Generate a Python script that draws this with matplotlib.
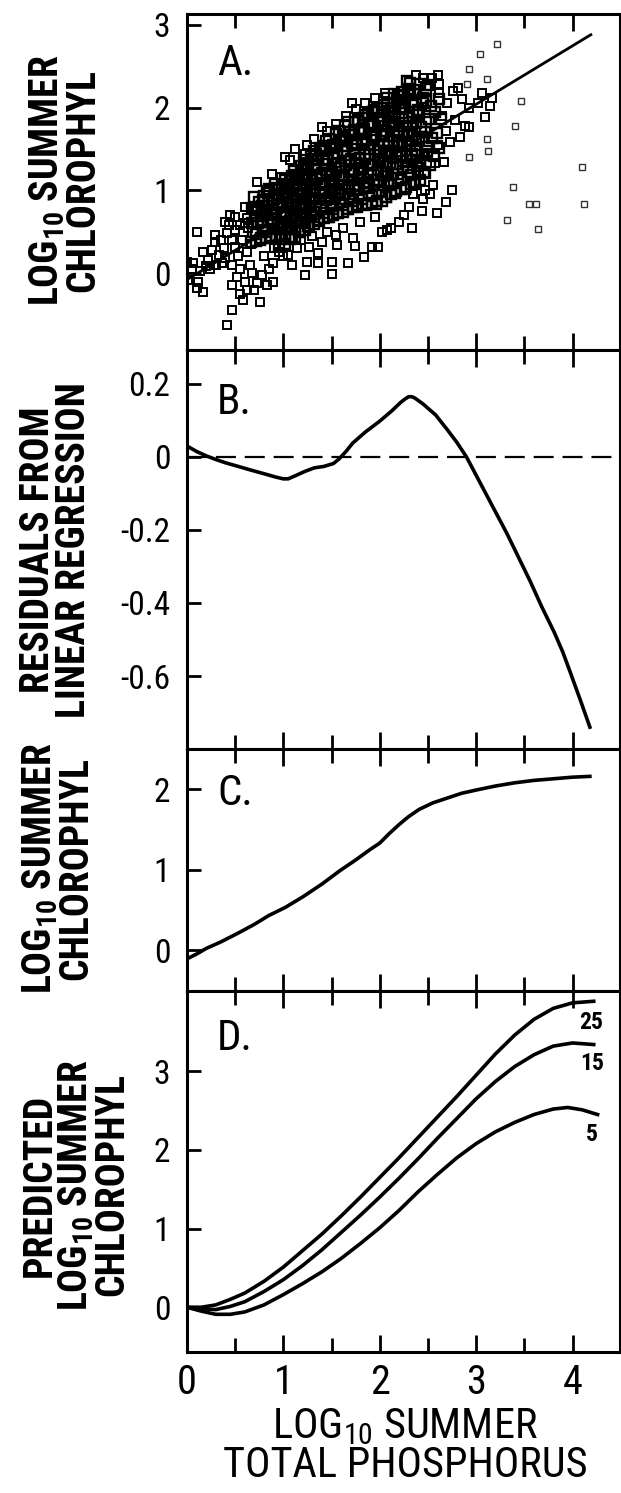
import matplotlib
matplotlib.use("Agg")
import matplotlib.pyplot as plt
from matplotlib import font_manager

# ---- data ----
# panel A: dense core of lakes (log TP, log chl)
core_tp = [0.66, 0.72, 0.69, 0.74, 0.67, 0.71, 0.73, 0.68, 0.70,
           0.76, 0.82, 0.79, 0.84, 0.77, 0.81, 0.83, 0.78, 0.80, 0.845,
           0.86, 0.92, 0.89, 0.94, 0.87, 0.91, 0.93, 0.88, 0.90, 0.945, 0.855, 0.915,
           0.96, 1.02, 0.99, 1.04, 0.97, 1.01, 1.03, 0.98, 1.00, 1.045, 0.955, 1.015, 0.985, 1.035,
           1.06, 1.12, 1.09, 1.14, 1.07, 1.11, 1.13, 1.08, 1.10, 1.145, 1.055, 1.115, 1.085, 1.135,
           1.16, 1.22, 1.19, 1.24, 1.17, 1.21, 1.23, 1.18, 1.20, 1.245, 1.155, 1.215, 1.185, 1.235,
           1.26, 1.32, 1.29, 1.34, 1.27, 1.31, 1.33, 1.28, 1.30, 1.345, 1.255, 1.315, 1.285, 1.335,
           1.36, 1.42, 1.39, 1.44, 1.37, 1.41, 1.43, 1.38, 1.40, 1.445, 1.355, 1.415, 1.385, 1.435,
           1.46, 1.52, 1.49, 1.54, 1.47, 1.51, 1.53, 1.48, 1.50, 1.545, 1.455, 1.515, 1.485, 1.535, 1.475,
           1.56, 1.62, 1.59, 1.64, 1.57, 1.61, 1.63, 1.58, 1.60, 1.645, 1.555, 1.615, 1.585, 1.635, 1.575,
           1.66, 1.72, 1.69, 1.74, 1.67, 1.71, 1.73, 1.68, 1.70, 1.745, 1.655, 1.715, 1.685, 1.735, 1.675,
           1.76, 1.82, 1.79, 1.84, 1.77, 1.81, 1.83, 1.78, 1.80, 1.845, 1.755, 1.815, 1.785, 1.835, 1.775, 1.825,
           1.86, 1.92, 1.89, 1.94, 1.87, 1.91, 1.93, 1.88, 1.90, 1.945, 1.855, 1.915, 1.885, 1.935, 1.875, 1.925,
           1.96, 2.02, 1.99, 2.04, 1.97, 2.01, 2.03, 1.98, 2.00, 2.045, 1.955, 2.015, 1.985, 2.035, 1.975, 2.025,
           2.06, 2.12, 2.09, 2.14, 2.07, 2.11, 2.13, 2.08, 2.10, 2.145, 2.055, 2.115, 2.085, 2.135, 2.075,
           2.16, 2.22, 2.19, 2.24, 2.17, 2.21, 2.23, 2.18, 2.20, 2.245, 2.155, 2.215, 2.185, 2.235,
           2.26, 2.32, 2.29, 2.34, 2.27, 2.31, 2.33, 2.28, 2.30, 2.345, 2.255, 2.315, 2.285,
           2.36, 2.42, 2.39, 2.44, 2.37, 2.41, 2.43, 2.38, 2.40, 2.445, 2.355, 2.415,
           2.46, 2.52, 2.49, 2.54, 2.47, 2.51, 2.53, 2.48, 2.50,
           2.56, 2.62, 2.59, 2.64, 2.57, 2.61]
core_chl = [0.37, 0.39, 0.50, 0.60, 0.61, 0.69, 0.79, 0.79, 0.92,
            0.40, 0.42, 0.52, 0.62, 0.63, 0.71, 0.81, 0.81, 0.93, 0.97,
            0.42, 0.43, 0.53, 0.62, 0.62, 0.70, 0.78, 0.77, 0.89, 0.92, 1.02, 1.03,
            0.34, 0.35, 0.45, 0.54, 0.53, 0.61, 0.70, 0.69, 0.80, 0.84, 0.93, 0.94, 1.06, 1.07,
            0.42, 0.43, 0.53, 0.63, 0.63, 0.71, 0.80, 0.79, 0.91, 0.94, 1.04, 1.05, 1.17, 1.19,
            0.50, 0.52, 0.62, 0.71, 0.72, 0.80, 0.90, 0.89, 1.01, 1.05, 1.15, 1.17, 1.29, 1.31,
            0.57, 0.59, 0.70, 0.80, 0.81, 0.90, 1.00, 0.99, 1.12, 1.16, 1.27, 1.29, 1.42, 1.44,
            0.64, 0.66, 0.77, 0.88, 0.89, 0.98, 1.08, 1.08, 1.21, 1.25, 1.36, 1.38, 1.51, 1.54,
            0.68, 0.70, 0.81, 0.91, 0.91, 1.00, 1.10, 1.10, 1.22, 1.27, 1.37, 1.39, 1.52, 1.54, 1.62,
            0.72, 0.74, 0.86, 0.96, 0.97, 1.06, 1.17, 1.17, 1.30, 1.35, 1.45, 1.48, 1.61, 1.63, 1.72,
            0.77, 0.80, 0.91, 1.02, 1.04, 1.13, 1.24, 1.25, 1.38, 1.43, 1.54, 1.57, 1.70, 1.73, 1.82,
            0.80, 0.83, 0.94, 1.04, 1.06, 1.15, 1.26, 1.26, 1.39, 1.44, 1.55, 1.58, 1.71, 1.74, 1.83, 1.87,
            0.82, 0.85, 0.97, 1.08, 1.10, 1.19, 1.30, 1.31, 1.44, 1.50, 1.61, 1.64, 1.78, 1.81, 1.91, 1.95,
            0.84, 0.87, 0.99, 1.10, 1.12, 1.22, 1.33, 1.34, 1.48, 1.53, 1.65, 1.68, 1.82, 1.85, 1.95, 1.99,
            0.92, 0.96, 1.08, 1.20, 1.22, 1.33, 1.44, 1.46, 1.60, 1.66, 1.78, 1.82, 1.96, 2.00, 2.11,
            0.97, 1.02, 1.15, 1.28, 1.32, 1.43, 1.56, 1.58, 1.73, 1.81, 1.94, 1.98, 2.14, 2.19,
            1.02, 1.08, 1.22, 1.36, 1.41, 1.53, 1.67, 1.71, 1.87, 1.95, 2.09, 2.15, 2.32,
            1.07, 1.13, 1.29, 1.43, 1.49, 1.62, 1.76, 1.81, 1.97, 2.06, 2.21, 2.28,
            1.22, 1.30, 1.47, 1.63, 1.71, 1.86, 2.02, 2.08, 2.27,
            1.42, 1.51, 1.69, 1.86, 1.94, 2.10]

# panel A: more lakes filling the core between the ones above
core2_tp = [0.77, 0.72, 0.79, 0.74, 0.78, 0.705, 0.75, 0.785,
            0.87, 0.82, 0.89, 0.84, 0.88, 0.805, 0.85, 0.885, 0.83,
            0.97, 0.92, 0.99, 0.94, 0.98, 0.905, 0.95, 0.985, 0.93, 0.96, 0.915,
            1.07, 1.02, 1.09, 1.04, 1.08, 1.005, 1.05, 1.085, 1.03, 1.06, 1.015, 1.095,
            1.17, 1.12, 1.19, 1.14, 1.18, 1.105, 1.15, 1.185, 1.13, 1.16, 1.115, 1.195,
            1.27, 1.22, 1.29, 1.24, 1.28, 1.205, 1.25, 1.285, 1.23, 1.26, 1.215, 1.295,
            1.37, 1.32, 1.39, 1.34, 1.38, 1.305, 1.35, 1.385, 1.33, 1.36, 1.315, 1.395,
            1.47, 1.42, 1.49, 1.44, 1.48, 1.405, 1.45, 1.485, 1.43, 1.46, 1.415, 1.495, 1.445,
            1.57, 1.52, 1.59, 1.54, 1.58, 1.505, 1.55, 1.585, 1.53, 1.56, 1.515, 1.595, 1.545,
            1.67, 1.62, 1.69, 1.64, 1.68, 1.605, 1.65, 1.685, 1.63, 1.66, 1.615, 1.695, 1.645,
            1.77, 1.72, 1.79, 1.74, 1.78, 1.705, 1.75, 1.785, 1.73, 1.76, 1.715, 1.795, 1.745, 1.775,
            1.87, 1.82, 1.89, 1.84, 1.88, 1.805, 1.85, 1.885, 1.83, 1.86, 1.815, 1.895, 1.845, 1.875,
            1.97, 1.92, 1.99, 1.94, 1.98, 1.905, 1.95, 1.985, 1.93, 1.96, 1.915, 1.995, 1.945, 1.975,
            2.07, 2.02, 2.09, 2.04, 2.08, 2.005, 2.05, 2.085, 2.03, 2.06, 2.015, 2.095, 2.045, 2.075,
            2.17, 2.12, 2.19, 2.14, 2.18, 2.105, 2.15, 2.185, 2.13, 2.16, 2.115, 2.195, 2.145,
            2.27, 2.22, 2.29, 2.24, 2.28, 2.205, 2.25, 2.285, 2.23, 2.26, 2.215, 2.295,
            2.37, 2.32, 2.39, 2.34, 2.38, 2.305, 2.35, 2.385, 2.33, 2.36, 2.315,
            2.47, 2.42, 2.49, 2.44, 2.48, 2.405, 2.45, 2.485]
core2_chl = [0.42, 0.47, 0.57, 0.61, 0.72, 0.76, 0.86, 0.88,
             0.45, 0.50, 0.59, 0.63, 0.72, 0.76, 0.86, 0.88, 0.99,
             0.41, 0.45, 0.55, 0.59, 0.69, 0.73, 0.83, 0.85, 0.96, 1.00, 1.07,
             0.41, 0.45, 0.56, 0.60, 0.70, 0.74, 0.84, 0.87, 0.98, 1.02, 1.12, 1.13,
             0.49, 0.53, 0.65, 0.69, 0.79, 0.84, 0.94, 0.97, 1.09, 1.13, 1.23, 1.25,
             0.56, 0.61, 0.73, 0.78, 0.89, 0.94, 1.05, 1.08, 1.20, 1.25, 1.36, 1.38,
             0.63, 0.68, 0.81, 0.86, 0.97, 1.03, 1.14, 1.18, 1.31, 1.36, 1.47, 1.49,
             0.68, 0.73, 0.85, 0.90, 1.01, 1.06, 1.17, 1.20, 1.32, 1.37, 1.48, 1.52, 1.60,
             0.72, 0.77, 0.89, 0.95, 1.06, 1.11, 1.22, 1.27, 1.39, 1.44, 1.55, 1.60, 1.68,
             0.77, 0.82, 0.95, 1.01, 1.13, 1.18, 1.30, 1.35, 1.48, 1.53, 1.65, 1.70, 1.78,
             0.82, 0.87, 1.00, 1.05, 1.16, 1.22, 1.33, 1.38, 1.50, 1.55, 1.67, 1.71, 1.83, 1.85,
             0.84, 0.90, 1.03, 1.09, 1.21, 1.26, 1.38, 1.43, 1.56, 1.62, 1.74, 1.79, 1.91, 1.93,
             0.87, 0.93, 1.06, 1.12, 1.24, 1.30, 1.43, 1.48, 1.61, 1.67, 1.79, 1.84, 1.97, 1.99,
             0.92, 0.98, 1.11, 1.17, 1.29, 1.36, 1.48, 1.53, 1.66, 1.72, 1.85, 1.90, 2.03, 2.05,
             0.99, 1.06, 1.20, 1.27, 1.40, 1.47, 1.60, 1.66, 1.80, 1.87, 2.00, 2.06, 2.16,
             1.04, 1.12, 1.27, 1.35, 1.49, 1.57, 1.71, 1.78, 1.93, 2.01, 2.15, 2.22,
             1.10, 1.19, 1.35, 1.44, 1.59, 1.68, 1.83, 1.91, 2.07, 2.16, 2.30,
             1.21, 1.33, 1.52, 1.64, 1.82, 1.94, 2.12, 2.23]

# panel A: scattered lakes away from the core
scatter_pts = [
    (0.00, 0.13), (0.06, 0.12), (0.01, -0.08), (0.11, -0.11), (0.10, -0.18), (0.17, -0.23),
    (0.10, 0.49), (0.29, 0.46), (0.29, 0.37), (0.17, 0.25), (0.26, 0.28), (0.22, 0.16),
    (0.47, -0.14), (0.60, -0.11), (0.47, -0.45), (0.58, -0.33), (0.47, 0.10), (0.42, -0.63),
    (0.45, 0.70), (0.50, 0.68), (0.60, 0.80), (0.42, 0.48), (0.50, 0.52), (0.55, 0.58),
    (0.60, 0.60), (0.63, 0.54), (0.57, 0.40), (0.50, 0.31), (0.47, 0.40), (0.62, 0.67),
    (0.05, 0.05), (0.14, 0.02), (0.20, 0.08), (0.33, 0.22), (0.38, 0.30), (0.36, 0.12),
    (0.40, 0.18), (0.53, 0.20), (0.55, 0.05), (0.65, 0.10), (0.62, 0.25), (0.66, 0.35),
    (0.52, -0.05), (0.44, 0.58), (0.40, 0.62), (0.55, -0.25), (0.62, -0.20), (0.35, 0.40),
    (0.24, 0.05), (0.30, 0.10),
    (0.73, -0.12), (0.70, -0.20), (0.76, -0.35), (0.83, -0.14), (0.89, -0.11), (0.68, 0.00),
    (0.78, -0.02), (0.89, 0.12), (1.09, 0.10), (1.22, -0.02), (1.50, -0.01), (1.50, 0.13),
    (1.67, 0.12), (1.84, 0.19), (1.55, 0.46), (1.56, 0.34), (1.72, 0.42), (1.74, 0.33),
    (1.92, 0.31), (2.02, 0.49), (1.36, 0.24), (1.25, 0.13), (1.36, 0.12), (1.40, 0.37),
    (1.27, 0.31), (1.14, 0.30), (0.73, 0.76), (0.78, 0.68), (0.84, 0.86), (1.00, 0.20),
    (0.95, 0.25), (1.05, 0.22), (1.18, 0.40), (1.30, 0.45), (1.45, 0.50), (1.62, 0.55),
    (1.80, 0.62), (1.95, 0.68), (0.80, 0.20), (0.90, 0.30), (0.85, 0.05),
    (0.73, 1.10), (0.98, 1.16), (0.98, 1.08), (1.02, 1.40), (1.07, 1.36), (1.12, 1.50),
    (1.10, 1.24), (1.22, 1.44), (1.40, 1.76), (1.45, 1.72), (1.25, 1.55), (1.32, 1.62),
    (1.55, 1.80), (1.65, 1.90), (1.75, 1.98), (1.85, 2.05), (1.95, 2.12), (2.05, 2.18),
    (0.88, 1.20), (1.71, 2.05),
    (2.57, 1.33), (2.67, 1.34), (2.41, 1.28), (2.41, 1.18), (2.55, 1.64), (2.73, 1.58),
    (2.83, 1.64), (2.93, 1.76), (2.88, 1.78), (3.09, 1.88), (3.14, 2.02), (3.16, 2.11),
    (3.06, 2.18), (3.02, 2.06), (2.93, 1.99), (2.76, 2.20), (2.81, 2.24), (2.62, 2.29),
    (2.62, 2.17), (2.45, 2.36), (2.54, 2.36), (2.38, 2.39), (2.60, 2.39), (2.69, 1.72),
    (2.65, 1.90), (2.70, 2.05), (2.78, 1.85), (2.85, 2.10), (2.60, 1.55), (2.50, 1.45),
    (2.52, 0.95), (2.30, 0.80), (2.25, 0.70), (2.20, 0.62), (2.35, 0.95), (2.45, 0.90),
    (2.75, 1.00), (2.55, 1.06), (2.47, 1.00), (2.59, 0.73), (2.44, 0.75), (2.34, 0.55),
    (2.08, 0.52), (2.12, 0.54), (1.98, 0.31), (2.69, 0.86),
]
# panel A: faint outlying lakes at high phosphorus
far_pts = [
    (2.93, 2.46), (3.11, 2.34), (3.04, 2.65), (3.22, 2.77), (2.91, 2.29), (3.47, 2.08),
    (3.40, 1.78), (3.11, 1.62), (3.12, 1.48), (2.93, 1.40), (4.10, 1.28), (3.38, 1.04),
    (3.55, 0.84), (3.62, 0.84), (4.12, 0.84), (3.32, 0.64), (3.64, 0.53),
]

# panel A: linear regression line
fit_tp = [0.0, 4.19]
fit_chl = [-0.08, 2.88]

# panel B: residuals from linear regression
resid_tp = [0.0, 0.1, 0.2, 0.3, 0.4, 0.52, 0.65, 0.8, 0.92, 1.0, 1.05, 1.12, 1.22, 1.32,
            1.42, 1.52, 1.58, 1.65, 1.72, 1.85, 2.0, 2.12, 2.22, 2.27, 2.30, 2.33, 2.36,
            2.45, 2.58, 2.70, 2.80, 2.90, 3.0, 3.1, 3.2, 3.32, 3.44, 3.56, 3.68, 3.81,
            3.90, 3.97, 4.08, 4.18]
resid_val = [0.03, 0.015, 0.003, -0.007, -0.016, -0.025, -0.035, -0.046, -0.055, -0.06,
             -0.06, -0.052, -0.04, -0.03, -0.026, -0.018, -0.005, 0.015, 0.038, 0.068,
             0.098, 0.125, 0.15, 0.16, 0.165, 0.165, 0.162, 0.145, 0.115, 0.075, 0.04,
             0.0, -0.05, -0.10, -0.15, -0.21, -0.275, -0.34, -0.41, -0.48, -0.535, -0.585,
             -0.665, -0.74]

# panel C: fitted log chlorophyll
pred_tp = [0.0, 0.1, 0.2, 0.35, 0.53, 0.7, 0.85, 1.02, 1.2, 1.4, 1.59, 1.75, 1.9, 2.0,
           2.1, 2.2, 2.3, 2.41, 2.55, 2.7, 2.85, 3.0, 3.2, 3.4, 3.6, 3.8, 4.0, 4.18]
pred_chl = [-0.11, -0.05, 0.02, 0.10, 0.21, 0.32, 0.43, 0.53, 0.66, 0.82, 0.99, 1.12,
            1.25, 1.33, 1.45, 1.56, 1.66, 1.75, 1.83, 1.89, 1.95, 1.99, 2.04, 2.08,
            2.11, 2.13, 2.15, 2.16]

# panel D: predicted chlorophyll for three curve labels
d_tp = [0.0, 0.15, 0.3, 0.45, 0.6, 0.8, 1.0, 1.2, 1.4, 1.6, 1.8, 2.0, 2.2, 2.4, 2.6,
        2.8, 3.0, 3.2, 3.4, 3.6, 3.8, 4.0, 4.22]
d_25 = [0.0, 0.0, 0.03, 0.10, 0.18, 0.33, 0.51, 0.72, 0.93, 1.16, 1.40, 1.65, 1.90,
        2.16, 2.42, 2.68, 2.95, 3.22, 3.46, 3.66, 3.80, 3.87, 3.89]
d_15 = [0.0, -0.02, -0.03, 0.01, 0.07, 0.20, 0.35, 0.53, 0.73, 0.95, 1.17, 1.40, 1.64,
        1.89, 2.15, 2.40, 2.65, 2.87, 3.06, 3.21, 3.32, 3.36, 3.34]
d_5_tp = [0.0, 0.15, 0.3, 0.45, 0.6, 0.8, 1.0, 1.2, 1.4, 1.6, 1.8, 2.0, 2.2, 2.4, 2.6,
          2.8, 3.0, 3.2, 3.4, 3.6, 3.8, 3.95, 4.1, 4.26]
d_5 = [0.0, -0.05, -0.09, -0.09, -0.06, 0.03, 0.16, 0.30, 0.45, 0.62, 0.81, 1.01, 1.23,
       1.47, 1.69, 1.90, 2.08, 2.23, 2.35, 2.45, 2.52, 2.54, 2.51, 2.45]
d_labels = ["25", "15", "5"]
d_label_pos = [(4.19, 3.62), (4.20, 3.10), (4.20, 2.19)]

# ---- fonts ----
available = {f.name for f in font_manager.fontManager.ttflist}
family = "DejaVu Sans"
for cand in ["Liberation Sans Narrow", "DejaVu Sans Condensed", "Roboto Condensed", "Liberation Sans"]:
    if cand in available:
        family = cand
        break
plt.rcParams["font.family"] = family
plt.rcParams["axes.unicode_minus"] = False
plt.rcParams["mathtext.default"] = "regular"

fig = plt.figure(figsize=(6.21, 14.93), dpi=100)
left, width = 0.301, 0.697
axA = fig.add_axes([left, 0.7656, width, 0.2250])
axB = fig.add_axes([left, 0.4983, width, 0.2673])
axC = fig.add_axes([left, 0.3362, width, 0.1621])
axD = fig.add_axes([left, 0.0944, width, 0.2418])


def style(ax, yticks, ylabels, ylim, bottom_labels=False):
    ax.set_xlim(0, 4.49)
    ax.set_ylim(*ylim)
    ax.set_xticks([0, 1, 2, 3, 4])
    ax.set_xticks([0.5, 1.5, 2.5, 3.5], minor=True)
    ax.set_yticks(yticks)
    ax.set_yticklabels(ylabels)
    ax.tick_params(axis="x", which="major", direction="in", length=12, width=2,
                   top=True, bottom=True, labelbottom=bottom_labels, labelsize=29, pad=8)
    ax.tick_params(axis="x", which="minor", direction="in", length=10, width=2,
                   top=True, bottom=True)
    ax.tick_params(axis="y", direction="in", length=10, width=2, right=False,
                   labelsize=24, pad=12)
    for sp in ax.spines.values():
        sp.set_linewidth(2.2)


mk = dict(ls="none", marker="s", ms=6.5, mfc="none", mec="black", mew=1.7)

# A
axA.plot([p[0] for p in far_pts], [p[1] for p in far_pts], ls="none", marker="s",
         ms=5, mfc="none", mec="#333333", mew=1.0)
axA.plot([p[0] for p in scatter_pts], [p[1] for p in scatter_pts], ls="none", marker="s",
         ms=6, mfc="none", mec="black", mew=1.4)
axA.plot(core_tp, core_chl, **mk)
axA.plot(core2_tp, core2_chl, **mk)
axA.plot(fit_tp, fit_chl, color="black", lw=2.0)
style(axA, [0, 1, 2, 3], ["0", "1", "2", "3"], (-0.93, 3.13))

# B
axB.axhline(0, color="black", lw=1.6, dashes=(9, 4))
axB.plot(resid_tp, resid_val, color="black", lw=2.6)
style(axB, [0.2, 0, -0.2, -0.4, -0.6], ["0.2", "0", "-0.2", "-0.4", "-0.6"], (-0.80, 0.293))

# C
axC.plot(pred_tp, pred_chl, color="black", lw=2.6)
style(axC, [0, 1, 2], ["0", "1", "2"], (-0.51, 2.50))

# D
axD.plot(d_tp, d_25, color="black", lw=2.6)
axD.plot(d_tp, d_15, color="black", lw=2.6)
axD.plot(d_5_tp, d_5, color="black", lw=2.6)
for lab, (x, y) in zip(d_labels, d_label_pos):
    axD.text(x, y, lab, fontsize=17, fontweight="bold", ha="center", va="center")
style(axD, [0, 1, 2, 3], ["0", "1", "2", "3"], (-0.57, 4.02), bottom_labels=True)

letter_y = {"A.": 0.915, "B.": 0.92, "C.": 0.9, "D.": 0.925}
for ax, letter in zip([axA, axB, axC, axD], ["A.", "B.", "C.", "D."]):
    ax.text(0.07, letter_y[letter], letter, transform=ax.transAxes,
            fontsize=31, ha="left", va="top")

lab_kw = dict(rotation=90, ha="center", va="center", fontsize=28.5, fontweight="bold",
              multialignment="center", linespacing=0.92)
fig.text(65 / 621, 1 - 180 / 1493, "LOG$_{10}$ SUMMER\nCHLOROPHYL", **lab_kw)
fig.text(56 / 621, 1 - 550 / 1493, "RESIDUALS FROM\nLINEAR REGRESSION", **lab_kw)
fig.text(58 / 621, 1 - 868 / 1493, "LOG$_{10}$ SUMMER\nCHLOROPHYL", **lab_kw)
fig.text(76 / 621, 1 - 1185 / 1493, "PREDICTED\nLOG$_{10}$ SUMMER\nCHLOROPHYL", **lab_kw)

fig.text(405 / 621, 1 - 1446 / 1493, "LOG$_{10}$ SUMMER\nTOTAL PHOSPHORUS", ha="center",
         va="center", fontsize=30.5, multialignment="center", linespacing=0.92)

fig.savefig("out.png", dpi=100)
